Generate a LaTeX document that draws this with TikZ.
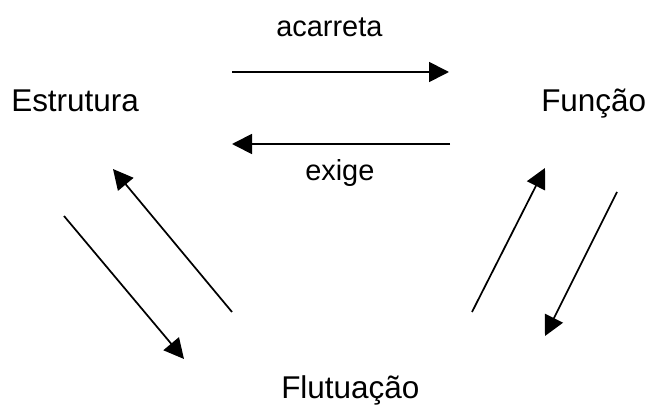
\documentclass[tikz,border=0pt]{standalone}
\usepackage{fontspec}
\setmainfont{Liberation Sans}
\usetikzlibrary{arrows.meta}
\begin{document}
\begin{tikzpicture}[x=0.75pt,y=-0.75pt,
  concept/.style={inner sep=0pt,anchor=base west,font=\fontsize{23.6}{28}\selectfont},
  rellabel/.style={inner sep=0pt,anchor=base west,font=\fontsize{21.7}{26}\selectfont},
  relarrow/.style={line width=1.3pt,-{Triangle[length=15pt,width=15pt]}}]
\useasboundingbox (0,0) rectangle (650,406);
\node[concept] (est) at (11,112) {Estrutura};
\node[concept] (fun) at (541,112) {Função};
\node[concept] (flu) at (281,398) {Flutuação};
\node[rellabel] (acarreta) at (276,37) {acarreta};
\node[rellabel] (exige) at (305,181) {exige};
\coordinate (a1s) at (232,72);
\coordinate (a1e) at (449,72);
\coordinate (a2s) at (450,144);
\coordinate (a2e) at (232,144);
\coordinate (a3s) at (232,312);
\coordinate (a3e) at (113,169);
\coordinate (a4s) at (64,216);
\coordinate (a4e) at (184,359);
\coordinate (a5s) at (472,312);
\coordinate (a5e) at (545,168);
\coordinate (a6s) at (617,192);
\coordinate (a6e) at (545,336);
\draw[relarrow] (a1s) -- (a1e);
\draw[relarrow] (a2s) -- (a2e);
\draw[relarrow] (a3s) -- (a3e);
\draw[relarrow] (a4s) -- (a4e);
\draw[relarrow] (a5s) -- (a5e);
\draw[relarrow] (a6s) -- (a6e);
\end{tikzpicture}
\end{document}
